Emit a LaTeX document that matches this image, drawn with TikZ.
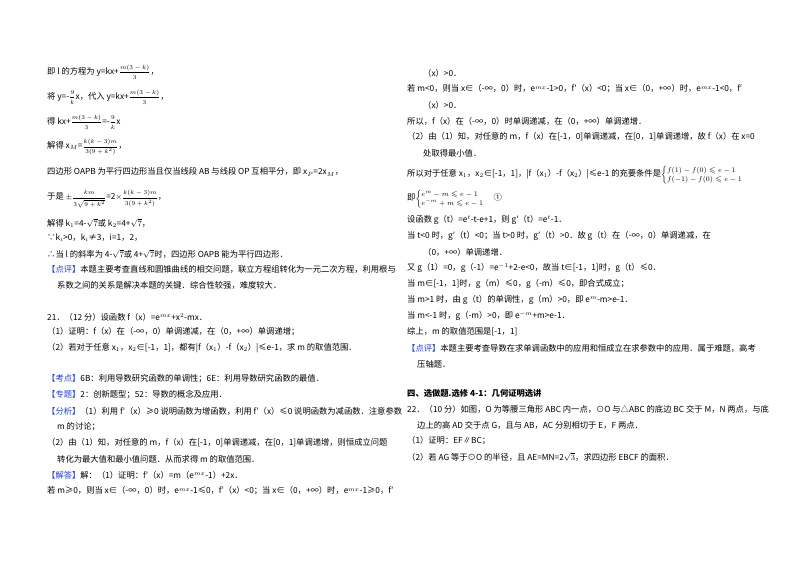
\documentclass[tikz,border=0pt]{standalone}
\usepackage{amsmath,amssymb}
\usepackage{fontspec}
\setmainfont{Noto Sans CJK SC}
\definecolor{tagblue}{RGB}{30,60,230}
\newcommand{\tg}[1]{\textcolor{tagblue}{【#1】}}
\newcommand{\sfr}[2]{{\fontsize{6.5}{7}\selectfont$\displaystyle\frac{#1}{#2}$}}
\begin{document}
\begin{tikzpicture}[x=1pt,y=-1pt,
  ln/.style={anchor=west,inner sep=0pt,font=\fontsize{8.3}{10}\selectfont},
  hd/.style={ln,font=\fontsize{8.3}{10}\selectfont\bfseries}]
\useasboundingbox[fill=white] (0,0) rectangle (800,565);
% left column
\node[ln] (l1) at (47,72) {即 l 的方程为 y=kx+\sfr{m(3-k)}{3}，};
\node[ln] (l2) at (47,97) {将 y=-\sfr{9}{k}x，代入 y=kx+\sfr{m(3-k)}{3}，};
\node[ln] (l3) at (47,122) {得 kx+\sfr{m(3-k)}{3}=-\sfr{9}{k}x};
\node[ln] (l4) at (47,147) {解得 x$_M$=\sfr{k(k-3)m}{3(9+k^2)}，};
\node[ln] (l5) at (47,172) {四边形 OAPB 为平行四边形当且仅当线段 AB 与线段 OP 互相平分，即 x$_P$=2x$_M$，};
\node[ln] (l6) at (47,199) {于是 $\pm$\sfr{km}{3\sqrt{9+k^2}}=2$\times$\sfr{k(k-3)m}{3(9+k^2)}，};
\node[ln] (l7) at (47,223) {解得 k$_1$=4-$\sqrt{7}$或 k$_2$=4+$\sqrt{7}$，};
\node[ln] (l8) at (47,238) {∵k$_i$>0，k$_i$≠3，i=1，2，};
\node[ln] (l9) at (47,254) {∴当 l 的斜率为 4-$\sqrt{7}$或 4+$\sqrt{7}$时，四边形 OAPB 能为平行四边形．};
\node[ln] (l10) at (47,269) {\tg{点评}本题主要考查直线和圆锥曲线的相交问题，联立方程组转化为一元二次方程，利用根与};
\node[ln] (l11) at (57,285) {系数之间的关系是解决本题的关键．综合性较强，难度较大．};
\node[ln] (l12) at (47,317) {21．（12 分）设函数 f（x）=e$^{mx}$+x$^2$-mx．};
\node[ln] (l13) at (47,332) {（1）证明：f（x）在（-∞，0）单调递减，在（0，+∞）单调递增；};
\node[ln] (l14) at (47,348) {（2）若对于任意 x$_1$，x$_2$∈[-1，1]，都有|f（x$_1$）-f（x$_2$）|≤e-1，求 m 的取值范围．};
\node[ln] (l15) at (47,379) {\tg{考点}6B：利用导数研究函数的单调性；6E：利用导数研究函数的最值．};
\node[ln] (l16) at (47,395) {\tg{专题}2：创新题型；52：导数的概念及应用．};
\node[ln] (l17) at (47,411) {\tg{分析}（1）利用 f′（x）≥0 说明函数为增函数，利用 f′（x）≤0 说明函数为减函数．注意参数};
\node[ln] (l18) at (57,427) {m 的讨论；};
\node[ln] (l19) at (47,443) {（2）由（1）知，对任意的 m，f（x）在[-1，0]单调递减，在[0，1]单调递增，则恒成立问题};
\node[ln] (l20) at (57,459) {转化为最大值和最小值问题．从而求得 m 的取值范围．};
\node[ln] (l21) at (47,475) {\tg{解答}解：（1）证明：f′（x）=m（e$^{mx}$-1）+2x．};
\node[ln] (l22) at (47,491) {若 m≥0，则当 x∈（-∞，0）时，e$^{mx}$-1≤0，f′（x）<0；当 x∈（0，+∞）时，e$^{mx}$-1≥0，f′};
% right column
\node[ln] (r1) at (423,73) {（x）>0．};
\node[ln] (r2) at (407,89) {若 m<0，则当 x∈（-∞，0）时，e$^{mx}$-1>0，f′（x）<0；当 x∈（0，+∞）时，e$^{mx}$-1<0，f′};
\node[ln] (r3) at (423,105) {（x）>0．};
\node[ln] (r4) at (407,121) {所以，f（x）在（-∞，0）时单调递减，在（0，+∞）单调递增．};
\node[ln] (r5) at (407,137) {（2）由（1）知，对任意的 m，f（x）在[-1，0]单调递减，在[0，1]单调递增，故 f（x）在 x=0};
\node[ln] (r6) at (423,153) {处取得最小值．};
\node[ln] (r7) at (407,175) {所以对于任意 x$_1$，x$_2$∈[-1，1]，|f（x$_1$）-f（x$_2$）|≤e-1 的充要条件是{\fontsize{7.5}{8}\selectfont$\begin{cases}f(1)-f(0)\leqslant e-1\\ f(-1)-f(0)\leqslant e-1\end{cases}$}};
\node[ln] (r8) at (407,199) {即{\fontsize{7.5}{8}\selectfont$\begin{cases}e^{m}-m\leqslant e-1\\ e^{-m}+m\leqslant e-1\end{cases}$} ①};
\node[ln] (r9) at (407,220) {设函数 g（t）=e$^t$-t-e+1，则 g′（t）=e$^t$-1．};
\node[ln] (r10) at (407,236) {当 t<0 时，g′（t）<0；当 t>0 时，g′（t）>0．故 g（t）在（-∞，0）单调递减，在};
\node[ln] (r11) at (423,252) {（0，+∞）单调递增．};
\node[ln] (r12) at (407,268) {又 g（1）=0，g（-1）=e$^{-1}$+2-e<0，故当 t∈[-1，1]时，g（t）≤0．};
\node[ln] (r13) at (407,284) {当 m∈[-1，1]时，g（m）≤0，g（-m）≤0，即合式成立；};
\node[ln] (r14) at (407,300) {当 m>1 时，由 g（t）的单调性，g（m）>0，即 e$^m$-m>e-1．};
\node[ln] (r15) at (407,316) {当 m<-1 时，g（-m）>0，即 e$^{-m}$+m>e-1．};
\node[ln] (r16) at (407,332) {综上，m 的取值范围是[-1，1]};
\node[ln] (r17) at (407,348) {\tg{点评}本题主要考查导数在求单调函数中的应用和恒成立在求参数中的应用．属于难题，高考};
\node[ln] (r18) at (417,364) {压轴题．};
\node[hd] (r19) at (407,393) {四、选做题.选修 4-1：几何证明选讲};
\node[ln] (r20) at (407,409) {22．（10 分）如图，O 为等腰三角形 ABC 内一点，⊙O 与△ABC 的底边 BC 交于 M，N 两点，与底};
\node[ln] (r21) at (417,425) {边上的高 AD 交于点 G，且与 AB，AC 分别相切于 E，F 两点．};
\node[ln] (r22) at (407,441) {（1）证明：EF∥BC；};
\node[ln] (r23) at (407,457) {（2）若 AG 等于⊙O 的半径，且 AE=MN=2$\sqrt{3}$，求四边形 EBCF 的面积．};
\end{tikzpicture}
\end{document}
